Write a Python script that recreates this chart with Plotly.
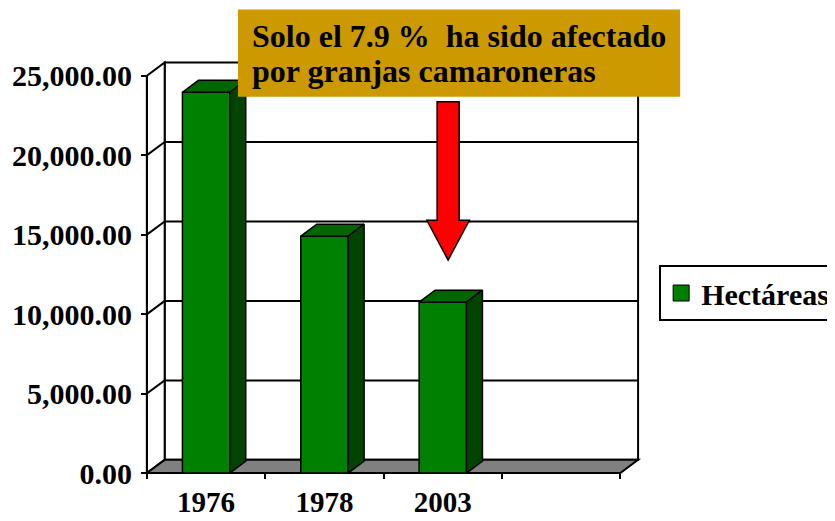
import plotly.graph_objects as go

# ---- data ----
years = ["1976", "1978", "2003"]
hectareas = [23950, 14900, 10750]
y_ticks = [0, 5000, 10000, 15000, 20000, 25000]
y_tick_labels = ["0.00", "5,000.00", "10,000.00", "15,000.00", "20,000.00", "25,000.00"]
n_slots = 4
series_name = "Hectáreas"
note_lines = ["Solo el 7.9 % \u00a0ha sido afectado", "por granjas camaroneras"]

# ---- geometry / style ----
OFF = 8                       # page body margin
W, H = 835, 521               # figure size
PXX = 118.3                   # px per category unit
PXY = 15.87 / 1000            # px per hectare
X0PX, Y0PX = 147 - OFF, 472.7 - OFF
XR = [-0.05, 4.2]
YR = [-500, 26300]
DX, DY = 0.15, 830            # wall depth (data units)
BW = 0.4                      # bar width
BDX, BDY = 0.135, 756         # bar depth
FONT = "Liberation Serif"
GREEN, TOPC, SIDEC = "#008000", "#006600", "#004400"

ml = X0PX + XR[0] * PXX
mr = W - (X0PX + XR[1] * PXX)
mb = H - (Y0PX - YR[0] * PXY)
mt = Y0PX - YR[1] * PXY
PW, PH = W - ml - mr, H - mt - mb

def px_x(p):  # reference px -> paper
    return (p - OFF - ml) / PW
def px_y(p):
    return (H - mb - (p - OFF)) / PH

xc = [i + 0.5 for i in range(len(years))]
ymax = y_ticks[-1]

shapes = []
def poly(pts, fill, lw=2, layer="below"):
    d = "M" + " L".join(f"{x},{y}" for x, y in pts) + " Z"
    shapes.append(dict(type="path", path=d, xref="x", yref="y", fillcolor=fill,
                       line=dict(color="black", width=lw), layer=layer))
def line(x1, y1, x2, y2, lw=2):
    shapes.append(dict(type="line", x0=x1, y0=y1, x1=x2, y1=y2, xref="x", yref="y",
                       line=dict(color="black", width=lw), layer="below"))

# back wall, left wall, floor
poly([(DX, DY), (n_slots + DX, DY), (n_slots + DX, ymax + DY), (DX, ymax + DY)], "white")
poly([(0, 0), (DX, DY), (DX, ymax + DY), (0, ymax)], "white")
poly([(0, 0), (n_slots, 0), (n_slots + DX, DY), (DX, DY)], "#808080")
for v in y_ticks[1:-1]:
    line(0, v, DX, v + DY)
    line(DX, v + DY, n_slots + DX, v + DY)
line(0, 0, 0, ymax)

# red arrow (decoration)
ax_c, ax_sw, ax_hw = 2.545, 0.093, 0.18
arrow = [(ax_c - ax_sw, 23360), (ax_c + ax_sw, 23360), (ax_c + ax_sw, 15900),
         (ax_c + ax_hw, 15900), (ax_c, 13400), (ax_c - ax_hw, 15900), (ax_c - ax_sw, 15900)]
poly(arrow, "#FF0000", lw=1.5, layer="above")

# note box
shapes.append(dict(type="rect", xref="paper", yref="paper", x0=px_x(238), x1=px_x(680),
                   y0=px_y(97), y1=px_y(10), fillcolor="#CC9900", line=dict(width=0), layer="above"))

fig = go.Figure()
fig.add_trace(go.Bar(x=xc, y=hectareas, width=BW, marker=dict(color=GREEN, line=dict(color="black", width=1.5)),
                     showlegend=False, hoverinfo="skip"))
for x, v in zip(xc, hectareas):
    l, r = x - BW / 2, x + BW / 2
    fig.add_trace(go.Scatter(x=[l, r, r + BDX, l + BDX, l], y=[v, v, v + BDY, v + BDY, v],
                             fill="toself", fillcolor=TOPC, mode="lines",
                             line=dict(color="black", width=1.5), showlegend=False, hoverinfo="skip"))
    fig.add_trace(go.Scatter(x=[r, r + BDX, r + BDX, r, r], y=[0, BDY, v + BDY, v, 0],
                             fill="toself", fillcolor=SIDEC, mode="lines",
                             line=dict(color="black", width=1.5), showlegend=False, hoverinfo="skip"))
fig.add_trace(go.Scatter(x=[None], y=[None], mode="markers", name=series_name,
                         marker=dict(symbol="square", size=16, color=GREEN, line=dict(color="black", width=1))))

annotations = []
for i, t in enumerate(note_lines):
    annotations.append(dict(text="<b>" + t + "</b>", xref="paper", yref="paper",
                            x=px_x(250), y=px_y(36 + 35 * i), xanchor="left", yanchor="middle",
                            showarrow=False, align="left",
                            font=dict(family=FONT, size=32, color="black")))

fig.update_layout(
    width=W, height=H,
    margin=dict(l=ml, r=mr, t=mt, b=mb, autoexpand=False, pad=0),
    paper_bgcolor="white", plot_bgcolor="white",
    font=dict(family=FONT, color="black", size=28),
    shapes=shapes,
    annotations=annotations,
    xaxis=dict(range=XR, showgrid=False, zeroline=False, showline=False,
               anchor="free", position=(0 - YR[0]) / (YR[1] - YR[0]),
               tickmode="array", tickvals=xc, ticktext=years, ticks="",
               tickfont=dict(family=FONT, size=29, color="black", weight="bold"), ticklabelstandoff=9,
               minor=dict(tickmode="array", tickvals=list(range(n_slots + 1)), ticks="outside",
                          ticklen=5, tickwidth=2, tickcolor="black", showgrid=False)),
    yaxis=dict(range=YR, showgrid=False, zeroline=False, showline=False,
               anchor="free", position=(0 - XR[0]) / (XR[1] - XR[0]),
               tickmode="array", tickvals=y_ticks, ticktext=y_tick_labels,
               ticks="outside", ticklen=6, tickwidth=2, tickcolor="black",
               tickfont=dict(family=FONT, size=30, color="black", weight="bold"), ticklabelstandoff=3),
    legend=dict(x=px_x(659), y=px_y(265), xanchor="left", yanchor="top",
                bordercolor="black", borderwidth=2, bgcolor="white",
                font=dict(family=FONT, size=30, color="black", weight="bold")),
)
fig.write_html("out.html")
